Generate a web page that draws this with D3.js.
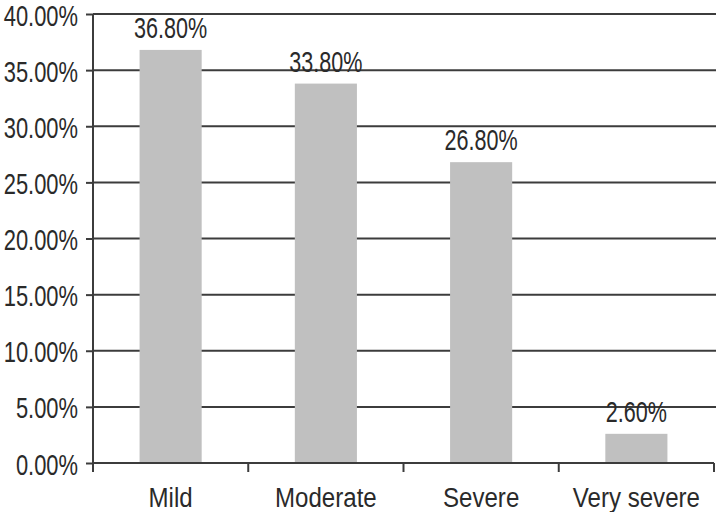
<!DOCTYPE html>
<html><head><meta charset="utf-8">
<script src="https://cdn.jsdelivr.net/npm/d3@7"></script>
<style>body{margin:0;background:#fff}svg{display:block}text{font-family:"Liberation Sans",Arial,sans-serif;fill:#2a2a2a}</style>
</head><body><svg id="c" width="718" height="512"></svg>
<script>
const categories = ["Mild", "Moderate", "Severe", "Very severe"];
const values = [0.368, 0.338, 0.268, 0.026];
const valueLabels = ["36.80%", "33.80%", "26.80%", "2.60%"];
const yTicks = [0, 0.05, 0.10, 0.15, 0.20, 0.25, 0.30, 0.35, 0.40];

const svg = d3.select("#c");
const mLeft = 93, mRight = 714, mTop = 14, mBottom = 463;
const x = d3.scaleBand().domain(categories).range([mLeft, mRight]).padding(0);
const y = d3.scaleLinear().domain([0, 0.4]).range([mBottom, mTop]);
const lineColor = "#3c3c3c";
const fs = 28, fsNum = 30;

// gridlines
svg.append("g").selectAll("line").data(yTicks.slice(1)).join("line")
  .attr("x1", mLeft).attr("x2", 716)
  .attr("y1", d => y(d)).attr("y2", d => y(d))
  .attr("stroke", lineColor).attr("stroke-width", 2);

// bars
const bw = x.bandwidth() * 0.4;
svg.append("g").selectAll("rect").data(values).join("rect")
  .attr("x", (d, i) => x(categories[i]) + (x.bandwidth() - bw) / 2)
  .attr("width", bw)
  .attr("y", d => y(d))
  .attr("height", d => y(0) - y(d))
  .attr("fill", "#c0c0c0");

// y axis
const yAxis = d3.axisLeft(y).tickValues(yTicks).tickFormat(d3.format(".2%")).tickSize(7).tickPadding(0);
const gy = svg.append("g").attr("transform", `translate(${mLeft},0)`).call(yAxis);
gy.select(".domain").remove();
gy.selectAll(".tick line").attr("stroke", lineColor).attr("stroke-width", 2);
gy.selectAll(".tick text")
  .attr("x", null).attr("dy", null)
  .attr("transform", "translate(-15,11) scale(0.73,1)")
  .style("font-size", fsNum + "px").style("font-family", '"Liberation Sans",Arial,sans-serif').style("fill", "#2a2a2a");
svg.append("line").attr("x1", mLeft).attr("x2", mLeft).attr("y1", mTop).attr("y2", mBottom + 9)
  .attr("stroke", lineColor).attr("stroke-width", 2);

// x axis
svg.append("line").attr("x1", mLeft).attr("x2", mRight).attr("y1", mBottom).attr("y2", mBottom)
  .attr("stroke", lineColor).attr("stroke-width", 2);
const xt = categories.map(c => x(c)).concat([mRight]);
svg.append("g").selectAll("line").data(xt).join("line")
  .attr("x1", d => d).attr("x2", d => d).attr("y1", mBottom).attr("y2", mBottom + 9)
  .attr("stroke", lineColor).attr("stroke-width", 2);
svg.append("g").selectAll("text").data(categories).join("text")
  .attr("transform", d => `translate(${x(d) + x.bandwidth() / 2},507) scale(0.86,1)`)
  .attr("text-anchor", "middle").style("font-size", fs + "px").text(d => d);

// value labels
svg.append("g").selectAll("text").data(values).join("text")
  .attr("transform", (d, i) => `translate(${x(categories[i]) + x.bandwidth() / 2},${y(d) - 12}) scale(0.72,1)`)
  .attr("text-anchor", "middle").style("font-size", fsNum + "px")
  .text((d, i) => valueLabels[i]);
</script></body></html>
